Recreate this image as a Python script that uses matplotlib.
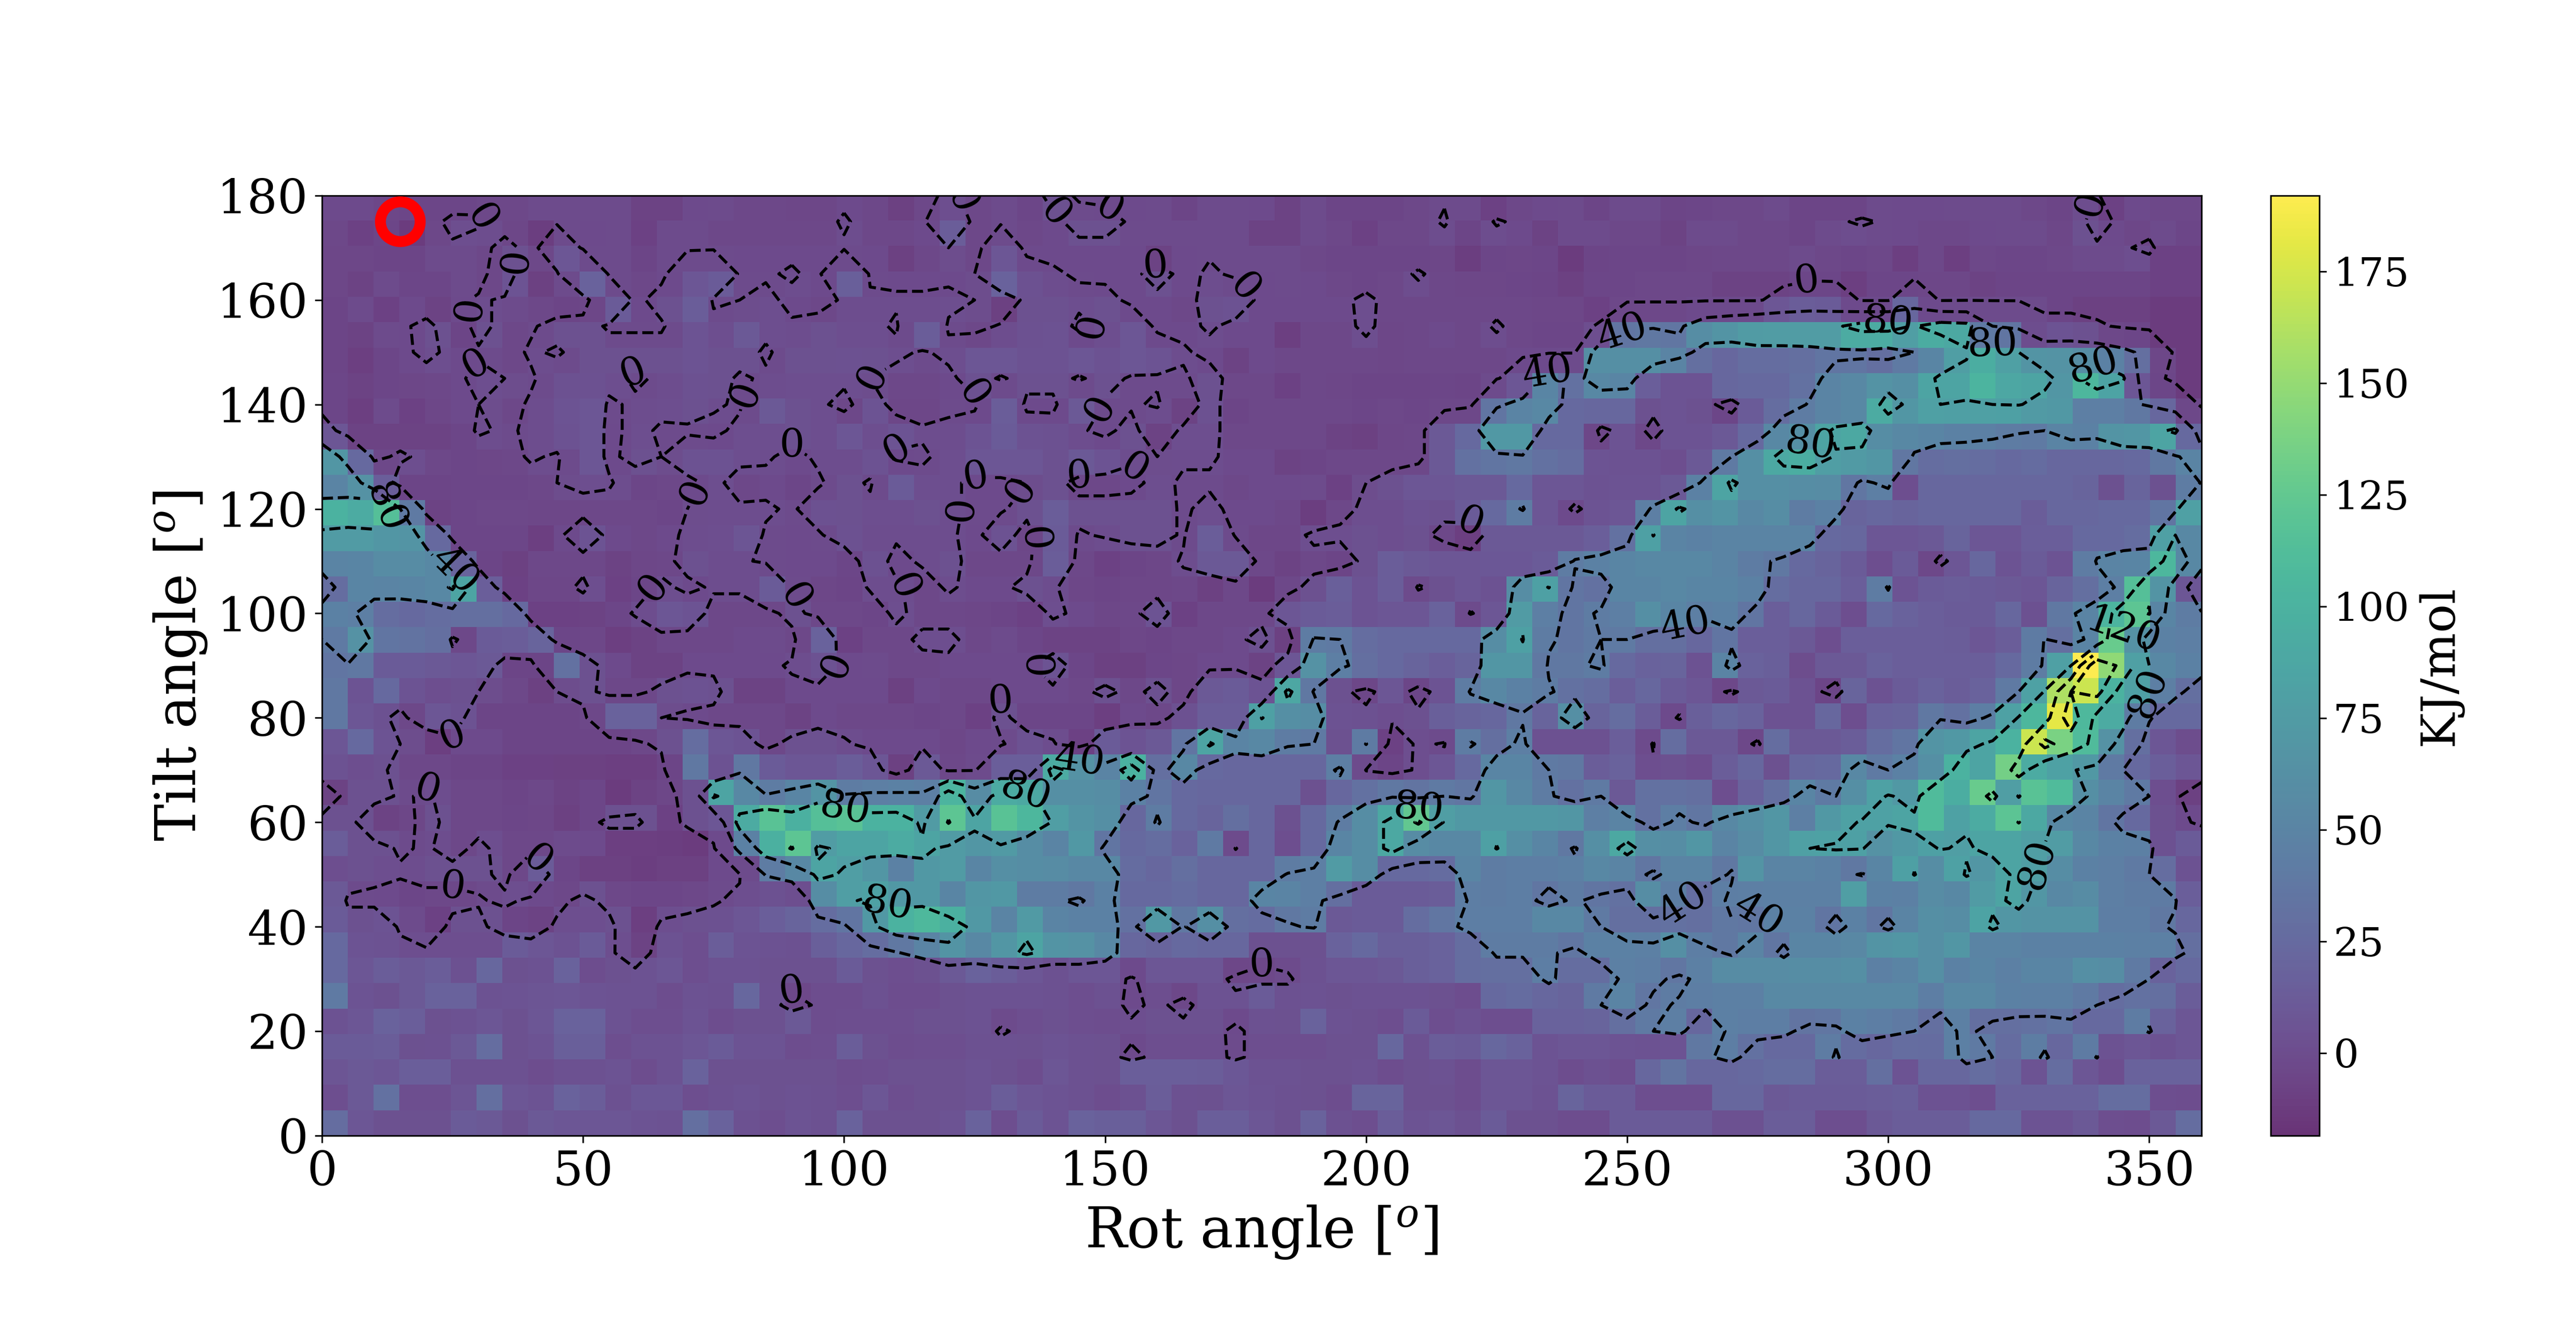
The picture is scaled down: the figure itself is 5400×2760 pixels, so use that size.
import numpy as np
import matplotlib
matplotlib.use('Agg')
import matplotlib.pyplot as plt

plt.rcParams['font.family'] = 'DejaVu Serif'
plt.rcParams['mathtext.fontset'] = 'dejavuserif'

# energy per rot bin (0..360 step 5), one list per tilt value
tilt_180 = [-2,-2,-4,-5,-5,-5,-3,-3,-1,-1,-1,-1,-7,-7,-2,-1,-3,-3,-4,-4,-2,-3,-9,-3,2,
            -3,-1,-5,3,-1,-2,-2,-1,-6,-1,-1,-2,-7,-1,-6,-6,-6,-3,-1,-1,-8,-3,-2,-1,
            -6,-1,-1,-6,-5,-3,-3,-1,-6,-6,-6,-1,-2,-2,-1,-1,-1,-3,-6,1,-8,-2,-3,-3]
tilt_175 = [-3,-8,-5,-12,-3,2,1,-4,-11,-1,-2,-1,-8,-1,-1,-3,-3,-3,-3,-3,1,-3,-3,-2,14,
            -3,-1,-3,-2,3,3,-1,-1,-1,-1,-1,-7,-7,-1,-3,-8,-3,-3,1,-6,1,-2,-7,-1,
            -1,-3,-3,-7,-1,-1,-3,-3,-6,-1,1,-1,-2,-3,-3,-2,-1,-1,-4,3,-2,-4,-1,-5]
tilt_170 = [-4,-4,-6,-6,-1,-1,-3,3,-3,8,-1,-1,-6,-1,-1,-1,-2,-2,-2,-2,-1,-2,-9,-3,0,
            -3,8,-2,-2,-2,-2,-2,-7,-2,-1,-1,-1,-1,-3,-5,-5,-5,-5,-4,-11,-5,-4,-5,-12,
            -6,-5,-5,-6,-4,-3,-3,-3,-1,-3,-5,-3,-10,-3,-10,-3,-5,-5,-3,-1,-1,2,-8,-8]
tilt_165 = [-4,-7,-1,-5,-5,-1,-3,6,-9,-1,18,-1,-3,-2,8,12,-1,-1,1,-2,16,-1,-2,-2,-2,
            0,18,4,1,-1,-2,-2,3,-2,1,-1,-2,-1,-2,-3,-5,-3,1,-3,-4,-4,-5,-6,-9,
            -5,-5,-3,-3,-3,-7,-7,-7,-5,-5,-10,-5,-5,-4,-4,-7,-6,-6,-6,-6,-6,-6,-8,-8]
tilt_160 = [-6,-1,-8,-2,-7,-2,1,-1,-3,-6,-4,12,-2,3,14,-1,0,2,-2,-3,1,1,1,1,2,
            0,-9,3,3,2,3,-2,-2,-3,3,5,-2,-2,-2,-2,2,-3,-3,-3,-3,-3,-3,-4,-4,
            -8,-3,-3,-3,-2,-2,-2,8,14,12,-2,-2,22,-2,-1,-1,-1,-1,-6,-9,-9,-9,-12,-12]
tilt_155 = [-6,-7,-1,-2,3,-6,3,-3,-1,3,3,-1,-1,-1,6,2,10,2,1,3,2,2,-1,14,-1,
            -3,1,4,5,-2,2,8,-2,-2,1,-2,-2,-10,-3,-3,2,-4,-3,-2,-3,1,-3,-5,-5,
            2,35,38,36,60,68,75,76,76,76,92,92,78,94,90,40,35,1,6,3,-3,-5,-12,-12]
tilt_150 = [-6,-10,-5,-2,2,-2,-1,-3,1,-1,3,3,3,3,6,3,3,-1,3,3,4,3,2,-1,2,
            8,8,5,5,8,5,8,6,1,-2,-7,-2,-3,-3,-3,-3,-4,-3,-3,-3,-3,-2,-2,-1,
            62,62,62,50,30,22,28,28,30,35,35,30,40,52,78,95,80,68,66,60,48,30,-4,-12]
tilt_145 = [-5,-7,-5,-4,-3,-2,2,0,-1,4,4,2,-1,1,4,3,-1,1,2,2,2,0,-3,-3,-2,
            4,-1,3,3,-1,3,-1,-1,-1,3,-3,-3,-8,-3,-4,-6,-6,-6,-5,-6,-1,8,52,32,
            55,52,15,6,6,22,25,25,32,50,55,66,62,85,85,102,88,85,70,105,84,8,-5,-12]
tilt_140 = [-5,-10,-1,-8,-4,-2,0,-3,1,6,8,-1,1,2,3,1,-1,10,3,2,-3,6,-4,-4,-1,
            -2,14,-2,-2,10,-1,-1,1,-7,4,-6,-3,-3,-3,-3,-5,-3,-5,-3,-3,35,50,55,25,
            22,22,3,6,3,-5,12,28,42,50,55,92,70,80,79,80,81,74,72,45,45,38,22,-3]
tilt_135 = [8,-7,-7,-7,-7,-5,1,-1,1,5,8,-2,2,-1,-1,-2,2,2,3,2,8,2,6,1,1,
            6,12,5,4,1,-2,3,-7,2,2,-3,-3,-3,-3,-7,-9,-4,-3,10,25,72,72,25,25,
            -4,6,-3,6,6,10,25,55,62,85,90,60,55,52,48,46,42,40,50,48,68,70,85,25]
tilt_130 = [70,25,-3,2,-3,-5,-4,-3,1,-1,8,-2,3,0,5,5,2,1,-2,1,1,5,-2,-1,2,
            8,8,8,3,10,6,1,0,1,1,-2,-2,-7,-6,-3,-3,-3,-3,10,32,35,38,32,28,
            6,5,5,2,10,40,62,90,95,78,74,70,37,28,30,28,25,26,22,22,22,24,38,50]
tilt_125 = [50,65,15,-6,-6,-5,-5,-5,-3,0,2,1,-5,-3,-2,2,-3,-2,-5,-1,3,-1,12,2,2,
            -2,-2,0,3,-3,-3,-2,2,-1,-1,-3,-2,-2,-1,-8,0,3,8,8,10,10,25,8,8,
            5,6,6,10,48,85,62,62,60,58,36,45,2,22,22,22,22,22,22,20,3,20,3,42]
tilt_120 = [100,92,115,40,-7,-5,-3,-3,-4,-4,-3,-3,-3,-5,0,1,1,1,-1,4,3,2,2,3,1,
            -1,-1,3,14,3,3,3,3,-1,2,-2,-2,-3,-11,-3,2,2,5,3,12,25,42,8,-2,
            6,8,45,85,62,68,55,60,42,48,20,22,20,22,22,22,22,14,22,22,24,25,35,80]
tilt_115 = [75,75,70,68,25,-5,-5,-5,-10,-2,6,-2,-3,-2,1,2,7,-1,-2,-1,4,1,1,1,1,
            -2,5,-4,12,-1,1,3,3,-1,14,-1,-4,-4,2,2,3,2,3,-3,-10,10,10,10,10,
            15,32,81,50,48,50,50,50,50,25,22,8,8,10,20,8,8,15,15,25,25,28,80,55]
tilt_110 = [50,52,58,58,55,20,-6,-9,-3,-3,-3,-7,-4,-3,3,1,1,-1,-2,-2,-5,4,-2,1,3,
            -3,-3,-3,14,-3,-8,-6,-4,1,10,10,-3,-7,-3,-6,3,14,10,8,8,9,9,12,42,
            48,52,55,55,55,50,42,38,25,20,12,2,12,-3,8,22,6,12,6,42,50,52,105,55]
tilt_105 = [28,52,50,52,55,85,15,-8,-4,-4,2,-8,-5,2,-2,1,1,12,-1,-4,-6,1,1,-3,1,
            -2,-2,3,1,-4,-6,-4,-4,-3,-9,-3,-12,-3,3,16,6,14,-1,3,8,5,60,81,35,
            32,52,52,55,52,52,48,28,22,22,15,42,6,12,14,12,10,8,20,30,45,115,68,8]
tilt_100 = [48,45,28,25,28,30,30,25,-8,-8,-7,-5,1,8,6,-3,-3,-3,3,-3,-3,-5,2,-3,-3,
            -4,-6,-8,2,-2,-4,-3,6,-8,-3,-3,-3,8,12,14,6,8,8,18,-1,8,75,45,35,
            42,45,62,52,45,48,35,15,22,12,2,25,18,15,12,12,22,4,38,50,102,122,52,42]
tilt_095 = [40,65,35,33,30,-3,12,14,20,-5,-4,-10,-7,-3,-3,-3,-2,-1,-3,18,-8,-3,-3,2,2,
            -3,-1,-5,-7,-7,-7,-4,-6,-3,-3,-2,3,-9,42,40,28,25,25,25,25,60,81,42,35,
            40,40,30,30,22,35,15,15,10,2,15,15,15,15,14,8,14,41,30,50,128,65,48,45]
tilt_090 = [35,38,12,12,10,8,10,-6,-6,32,3,-2,-7,-7,-2,-2,-2,-2,1,5,-2,-1,-3,-3,-2,
            -2,-2,-2,6,-5,-9,-9,-5,-4,-2,-2,-7,8,65,45,30,25,20,15,20,70,70,38,38,
            42,25,18,20,5,50,18,16,0,10,10,18,15,15,15,15,25,42,80,192,148,80,55,48]
tilt_085 = [38,6,25,6,2,3,0,-3,-9,0,3,-3,-3,3,5,3,-7,-7,-2,-2,-2,-2,-9,-2,-3,
            -3,-2,-2,-2,-3,3,-3,3,-4,10,12,6,88,38,3,-4,8,-5,6,42,55,48,42,32,
            28,15,22,12,8,-3,10,12,5,-6,20,5,12,18,14,18,40,82,160,172,100,80,45,30]
tilt_080 = [38,8,4,-3,8,5,-6,-6,-6,-6,-3,18,18,0,-2,-3,-3,-3,-7,-2,-3,-3,-3,-5,-3,
            -8,3,-5,-5,-5,-10,-2,-3,4,14,14,81,62,60,5,4,2,3,16,20,22,38,20,62,
            20,28,14,-2,16,22,18,5,5,22,2,18,20,38,32,44,82,105,182,108,92,42,25,25]
tilt_075 = [8,25,6,0,-10,-2,-2,-6,-6,-6,-6,-6,-3,3,28,8,6,-3,3,3,1,-2,-2,-2,-4,
            -2,-1,5,1,-8,12,6,10,35,85,50,55,42,40,3,41,-8,2,-1,42,30,45,4,4,
            4,15,-1,28,10,10,-3,28,10,10,14,28,35,68,72,85,100,172,138,110,65,30,8,0]
tilt_070 = [5,2,3,-3,-3,-6,-6,-8,-8,-9,-9,-10,-10,-6,38,5,38,12,8,8,14,8,-9,10,-3,
            -1,15,15,92,65,50,100,30,55,25,22,22,22,22,45,-1,-6,2,8,25,52,52,40,38,
            14,18,2,3,1,14,22,3,22,24,55,40,48,62,100,85,135,92,82,72,40,25,15,8]
tilt_065 = [-7,3,3,-1,1,-3,-3,-6,-3,-7,-5,-12,-7,-4,3,85,55,42,52,68,42,45,48,45,102,
            58,92,90,62,62,60,48,35,24,22,22,22,22,3,22,32,38,34,40,36,70,55,42,32,
            40,10,32,32,30,2,18,30,52,40,62,82,72,110,95,128,78,118,110,62,50,40,2,-9]
tilt_060 = [3,3,-7,-4,3,-3,-3,-5,-4,-9,-5,3,3,-8,3,8,92,118,98,115,118,100,100,75,122,
            85,118,105,78,68,62,22,42,24,20,30,22,3,24,42,60,90,125,78,72,72,72,72,70,
            45,50,32,44,36,55,62,70,45,72,82,82,85,110,82,92,121,90,55,50,35,25,3,-2]
tilt_055 = [14,3,3,-1,1,-3,2,-3,-3,-1,-2,-10,-10,-11,-12,-2,48,98,122,76,85,85,92,85,75,
            70,74,60,50,72,35,24,28,18,40,-1,22,2,25,52,60,90,58,55,55,81,62,52,38,
            62,90,62,60,70,50,58,70,80,82,81,65,72,81,78,85,85,78,76,55,48,46,4,12]
tilt_050 = [2,3,2,1,3,3,3,-3,12,-5,-9,-9,-11,-9,-9,-2,-1,42,55,85,78,70,48,72,75,
            52,62,60,58,55,55,26,22,30,22,22,22,42,45,75,60,25,25,26,52,42,44,44,46,
            55,50,36,50,50,38,68,50,50,48,38,52,81,60,82,70,85,78,60,48,45,40,28,5]
tilt_045 = [10,-1,-2,-5,-3,-3,-1,2,-2,-3,3,-3,-5,-5,-3,-1,2,4,2,60,78,82,72,72,52,
            70,72,42,42,38,48,25,25,26,22,22,52,50,45,30,12,12,12,14,44,42,44,36,42,
            35,32,60,44,28,44,45,46,46,46,78,48,46,58,55,75,85,70,55,58,45,42,41,15]
tilt_040 = [12,3,6,-1,-8,3,3,-6,-7,2,2,3,-10,2,3,4,8,15,20,28,35,72,100,108,98,
            72,50,74,50,48,48,32,72,38,62,30,26,38,42,10,12,12,28,36,44,44,44,55,55,
            40,30,30,32,30,38,36,48,48,35,48,36,50,62,60,84,70,66,66,66,44,44,38,22]
tilt_035 = [25,6,5,2,2,2,2,12,8,5,12,2,-7,5,2,14,6,5,4,16,22,28,38,50,68,
            55,70,85,68,65,55,22,20,25,22,22,3,3,3,18,25,16,16,18,28,42,42,42,36,
            48,48,46,62,44,38,50,36,52,52,54,68,70,62,70,50,50,48,48,48,48,46,46,30]
tilt_030 = [24,8,14,10,14,4,22,3,5,18,1,3,5,8,2,5,5,3,3,3,12,3,2,3,10,
            18,14,8,4,8,8,-2,8,8,8,-4,-3,-1,4,8,8,10,16,18,28,30,30,44,28,
            28,46,44,36,46,58,58,58,60,60,62,46,50,62,48,52,46,52,52,62,60,40,18,25]
tilt_025 = [40,6,3,10,18,18,5,6,7,8,6,5,5,1,5,4,22,4,-3,1,1,4,1,1,3,
            5,5,5,4,2,4,-2,2,-3,5,5,12,4,5,3,5,5,5,3,1,25,26,22,20,
            40,50,36,42,44,46,46,56,56,56,56,56,56,44,56,56,48,46,46,40,28,32,30,14]
tilt_020 = [5,8,18,15,3,5,8,3,8,18,18,5,2,2,6,1,3,3,10,1,2,2,2,3,3,
            5,-1,2,3,2,1,2,3,3,3,-2,4,3,18,5,3,2,12,2,5,2,2,18,18,
            20,30,40,45,22,46,44,44,34,36,48,44,40,30,46,30,30,32,35,25,25,42,18,8]
tilt_015 = [12,12,14,3,4,10,28,3,6,16,16,2,5,5,8,12,6,6,1,2,14,3,1,2,2,
            4,4,3,6,4,3,-2,2,2,2,-1,2,2,2,3,3,22,4,14,12,22,18,6,8,
            8,6,5,6,38,44,32,24,24,42,26,22,28,26,46,40,26,43,22,41,5,8,5,8]
tilt_010 = [7,10,8,15,15,4,4,4,1,4,4,6,1,5,18,3,3,3,3,3,1,2,3,3,3,
            6,3,1,8,4,3,15,15,15,14,9,5,5,3,3,5,1,3,5,1,8,8,6,1,
            4,2,22,34,22,22,24,28,28,14,14,30,6,22,22,28,22,6,28,8,2,18,18,18]
tilt_005 = [2,10,32,2,2,7,30,8,6,18,14,4,9,9,2,4,6,3,5,4,2,8,2,3,3,
            6,14,8,6,4,1,4,14,4,3,8,6,4,3,1,20,20,3,3,1,8,8,5,20,
            12,12,2,2,2,22,22,10,12,12,12,14,16,5,5,2,18,18,18,18,28,28,2,1]
tilt_000 = [28,8,3,3,3,12,10,3,10,8,8,8,6,5,30,18,4,2,6,4,18,3,3,3,6,
            18,2,12,6,18,16,16,8,3,15,15,8,3,18,4,2,14,6,8,4,12,3,3,1,
            1,12,12,12,12,4,4,14,14,2,2,10,14,14,14,24,24,6,6,10,2,1,10,28]

energy = np.array([tilt_180, tilt_175, tilt_170, tilt_165, tilt_160, tilt_155, tilt_150, tilt_145,
                   tilt_140, tilt_135, tilt_130, tilt_125, tilt_120, tilt_115, tilt_110, tilt_105,
                   tilt_100, tilt_095, tilt_090, tilt_085, tilt_080, tilt_075, tilt_070, tilt_065,
                   tilt_060, tilt_055, tilt_050, tilt_045, tilt_040, tilt_035, tilt_030, tilt_025,
                   tilt_020, tilt_015, tilt_010, tilt_005, tilt_000], dtype=float)

rot = np.arange(0, 365, 5)
tilt = np.arange(180, -5, -5)
cbar_ticks = [0, 25, 50, 75, 100, 125, 150, 175]
marker_rot = [15]
marker_tilt = [175]

# where the contour labels sit, per level
labels_0 = [(30.5,175.6),(34.9,167.7),(29.9,158.3),(29.9,147.3),(59.8,145.7),(80.2,142.2),(104.8,146.3),
            (124.9,142.2),(120.2,178.1),(140,176.2),(150.1,176.5),(159.8,166.1),(150.7,155.8),(175.6,161.4),
            (148.2,139.7),(90,133.4),(110.1,131.5),(125.2,126.5),(135,122.7),(145.1,126.2),(154.8,127.1),
            (74.9,121.5),(124.9,119.6),(135,114.2),(220,118.6),(64.8,103.8),(95,106),(112,105.4),(104.8,87.2),
            (124.9,85.6),(135,88.4),(29.9,72.1),(20.1,66.1),(40,51.6),(25.2,49.4),(90,28),(180,33.7),
            (285.1,160.2),(339.8,178.1)]
labels_40 = [(234.7,146),(249.8,152),(25.2,107.9),(259.9,101.3),(144.7,69.2),(259.6,45),(275,46.3)]
labels_80 = [(12.3,120.5),(299.9,155.8),(320,152),(339.8,146.6),(285.1,132.8),(100.1,62.6),(134.7,65.8),
             (108.6,45.3),(209.9,63.6),(330.1,51.9),(350.5,84.3)]
labels_120 = [(344.9,98.8)]
level_labels = {0: labels_0, 40: labels_40, 80: labels_80, 120: labels_120, 160: []}

fig = plt.figure(figsize=(18, 9.2), dpi=300)
ax = fig.add_axes([0.125, 0.1377, 0.7296, 0.7138])
cax = fig.add_axes([0.8815, 0.1377, 0.0189, 0.7138])

im = ax.imshow(energy, extent=(0, 360, 0, 180), aspect='auto', cmap='viridis',
               alpha=0.8, vmin=-18.5, vmax=192, interpolation='nearest')
for lev, spots in level_labels.items():
    cs = ax.contour(rot, tilt, energy, levels=[lev], colors='k', linestyles='dashed', linewidths=1.5)
    if spots:
        ax.clabel(cs, inline=True, fontsize=20, fmt='%d', manual=spots)
ax.scatter(marker_rot, marker_tilt, s=400, facecolors='none', edgecolors='red', linewidths=5.5, zorder=5)

ax.set_xlim(0, 360)
ax.set_ylim(0, 180)
ax.set_xticks(np.arange(0, 400, 50))
ax.set_yticks(np.arange(0, 200, 20))
ax.tick_params(labelsize=24)
ax.set_xlabel('Rot angle [$^o$]', fontsize=28)
ax.set_ylabel('Tilt angle [$^o$]', fontsize=28)

cbar = fig.colorbar(im, cax=cax)
cbar.set_ticks(cbar_ticks)
cbar.ax.tick_params(labelsize=20)
cbar.set_label('KJ/mol', fontsize=24)

fig.savefig('out.png', dpi=300)
